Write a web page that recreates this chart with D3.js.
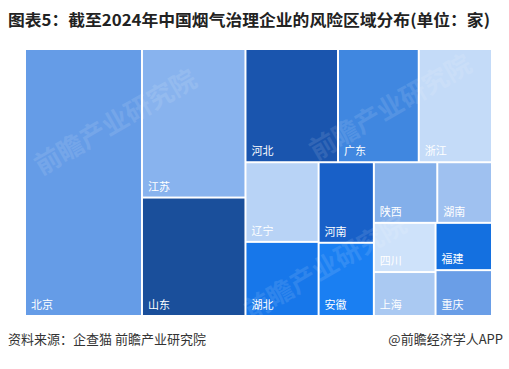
<!DOCTYPE html>
<html>
<head>
<meta charset="utf-8">
<script src="https://cdn.jsdelivr.net/npm/d3@7"></script>
<style>
  body { margin: 0; background: #fff; }
  svg { display: block; }
</style>
</head>
<body>
<script>
// data: company count by region (estimated)
var regions = ["北京", "江苏", "山东", "河北", "广东", "浙江", "辽宁", "湖北",
               "河南", "安徽", "陕西", "湖南", "四川", "上海", "福建", "重庆"];
var counts = [772, 380, 303, 259, 226, 205, 144, 134, 110, 100, 95, 82, 75, 67, 66, 64];
var colors = ["#659ce7", "#88b3ee", "#1a4f9b", "#1a55ae", "#4087e0", "#c4dbf8",
              "#b8d3f6", "#1777ea", "#1860c8", "#1a7ff2", "#83afea", "#9fc1f0",
              "#cee2fa", "#aac9f2", "#1470e0", "#6a9ee7"];
// how many regions go in each strip of the treemap
var strips = [1, 2, 3, 2, 2, 2, 2, 2];

var title = "图表5：截至2024年中国烟气治理企业的风险区域分布(单位：家)";
var source = "资料来源：企查猫 前瞻产业研究院";
var brand = "@前瞻经济学人APP";

var W = 509, H = 369;
var box = {left: 26, top: 50, width: 465, height: 265};
var font = "'Noto Sans CJK SC', sans-serif";

var svg = d3.select("body").append("svg")
    .attr("width", W)
    .attr("height", H);

// title
svg.append("text")
    .attr("x", 8)
    .attr("y", 26)
    .attr("font-family", font)
    .attr("font-size", 16)
    .attr("font-weight", "bold")
    .attr("fill", "#222")
    .attr("textLength", 482)
    .attr("lengthAdjust", "spacingAndGlyphs")
    .text(title);

// strip tiling: each strip runs along the shorter side, last one fills the rest
function stripTile(parent, x0, y0, x1, y1) {
    var nodes = parent.children, value = parent.value, i = 0;
    strips.forEach(function(k, s) {
        var row = {children: nodes.slice(i, i + k)};
        row.value = d3.sum(row.children, function(c) { return c.value; });
        i += k;
        var dx = x1 - x0, dy = y1 - y0;
        if (s == strips.length - 1) {
            if (dx < dy) d3.treemapSlice(row, x0, y0, x1, y1);
            else d3.treemapDice(row, x0, y0, x1, y1);
        } else if (dx < dy) {
            var h = dy * row.value / value;
            d3.treemapDice(row, x0, y0, x1, y0 += h);
        } else {
            var w = dx * row.value / value;
            d3.treemapSlice(row, x0, y0, x0 += w, y1);
        }
        value -= row.value;
    });
}

var table = regions.map(function(r, i) { return {name: r, value: counts[i], color: colors[i]}; });
var root = d3.hierarchy({children: table})
    .sum(function(d) { return d.value || 0; })
    .sort(function(a, b) { return b.value - a.value; });

d3.treemap()
    .tile(stripTile)
    .size([box.width, box.height])
    .paddingInner(2)
    (root);

var g = svg.append("g")
    .attr("transform", "translate(" + box.left + "," + box.top + ")");

var cell = g.selectAll("g")
    .data(root.leaves())
    .enter().append("g")
    .attr("transform", function(d) { return "translate(" + d.x0 + "," + d.y0 + ")"; });

cell.append("rect")
    .attr("width", function(d) { return d.x1 - d.x0; })
    .attr("height", function(d) { return d.y1 - d.y0; })
    .attr("fill", function(d) { return d.data.color; });

cell.append("text")
    .attr("x", 5)
    .attr("y", function(d) { return d.y1 - d.y0 - 6; })
    .attr("font-family", font)
    .attr("font-size", 11)
    .attr("fill", "#fff")
    .text(function(d) { return d.data.name; });

// faint watermarks
var marks = [[120, 130], [395, 115], [330, 275]];
svg.selectAll(".wm")
    .data(marks)
    .enter().append("text")
    .attr("class", "wm")
    .attr("transform", function(d) { return "translate(" + d[0] + "," + d[1] + ") rotate(-30)"; })
    .attr("text-anchor", "middle")
    .attr("font-family", font)
    .attr("font-size", 26)
    .attr("font-weight", "bold")
    .attr("fill", "#fff")
    .attr("opacity", 0.1)
    .text("前瞻产业研究院");

// footer
svg.append("text")
    .attr("x", 8)
    .attr("y", 344)
    .attr("font-family", font)
    .attr("font-size", 13)
    .attr("fill", "#333")
    .text(source);

svg.append("text")
    .attr("x", 503)
    .attr("y", 344)
    .attr("text-anchor", "end")
    .attr("font-family", font)
    .attr("font-size", 13)
    .attr("fill", "#333")
    .text(brand);
</script>
</body>
</html>
